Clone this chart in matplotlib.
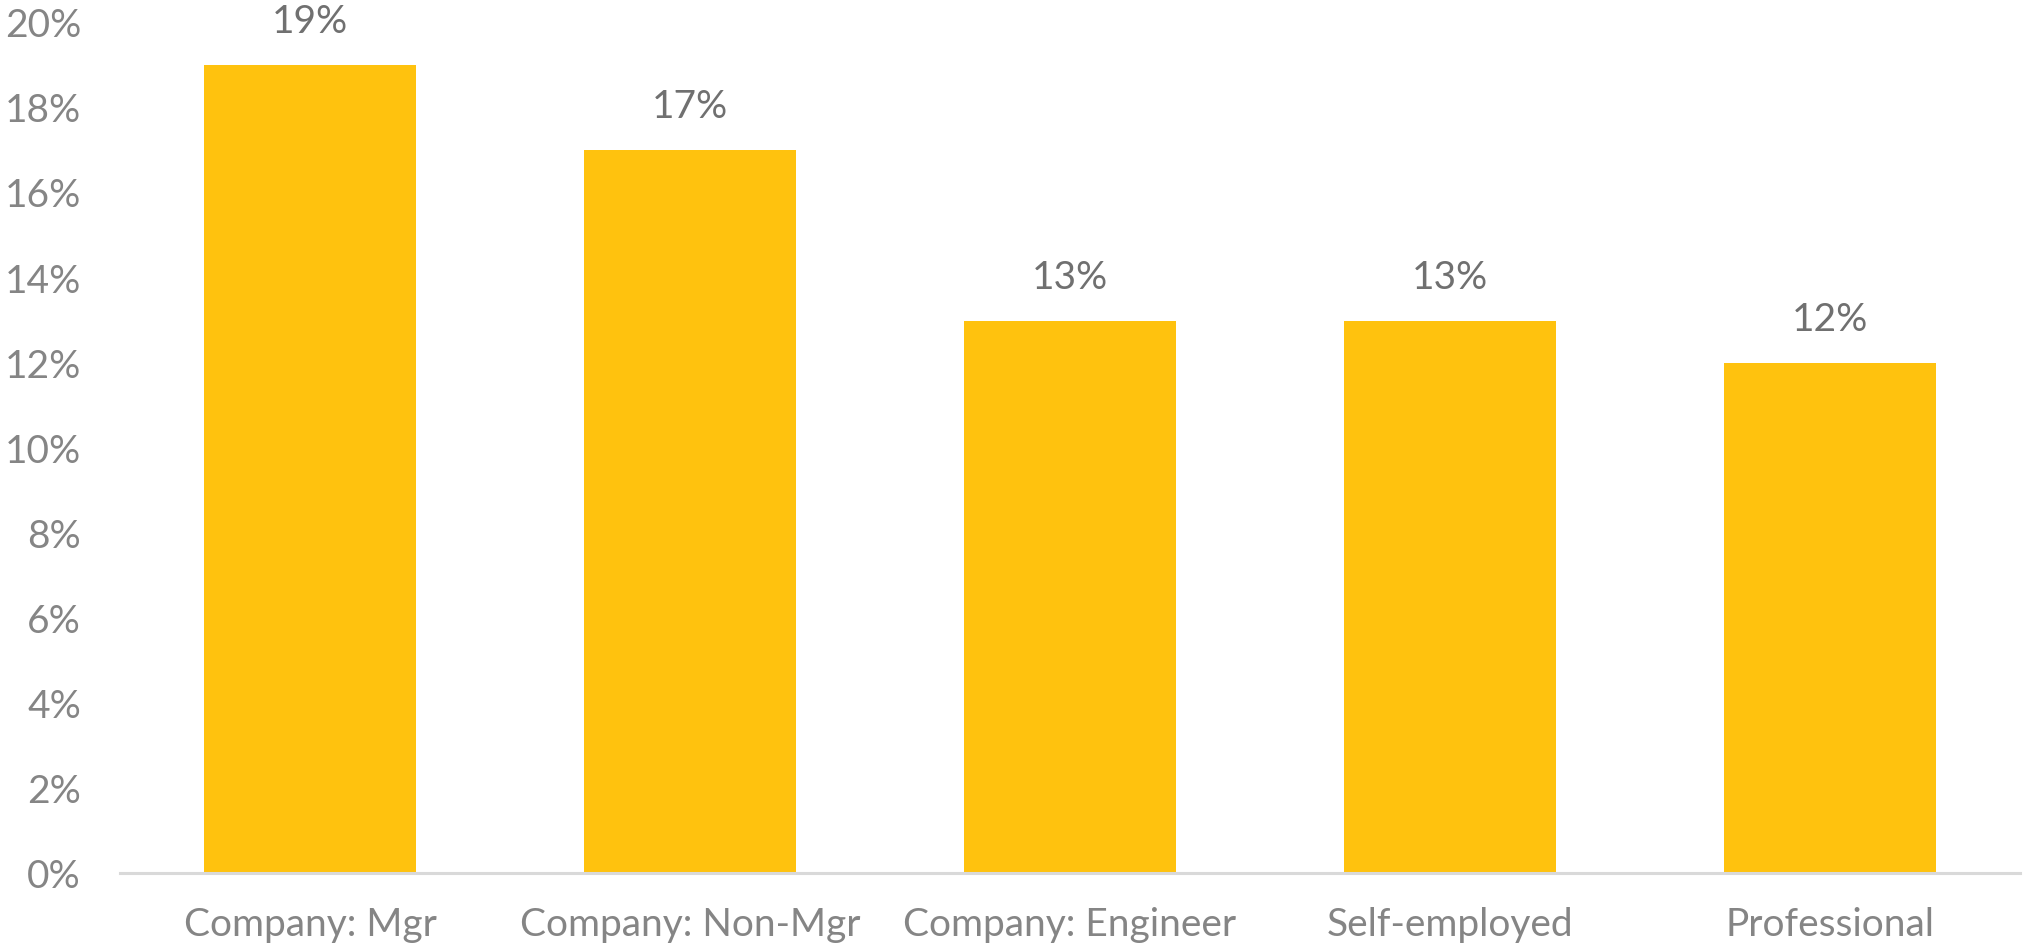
import numpy as np
import matplotlib.pyplot as plt

# Datos
categorias = ['Company: Mgr', 'Company: Non-Mgr', 'Company: Engineer', 'Self-employed', 'Professional']
porcentajes = [19, 17, 13, 13, 12]
ticks_y = np.arange(0, 21, 2)

amarillo = '#FFC20E'
gris = '#858585'

plt.rcParams['font.family'] = ['Lato', 'DejaVu Sans']

fig = plt.figure(figsize=(20.23, 9.51), dpi=100)
ax = fig.add_axes([0.0593, 0.0815, 0.9392, 0.8945])

x = np.arange(len(categorias))
ax.bar(x, porcentajes, width=0.558, color=amarillo, zorder=2)

# etiquetas de valor encima de cada barra
for xi, v in zip(x, porcentajes):
    ax.annotate(f'{v}%', (xi, v), xytext=(0, 18), textcoords='offset points',
                ha='center', va='bottom', fontsize=28, color='#707070')

ax.set_xlim(-0.5, 4.5)
ax.set_ylim(0, 20)
ax.set_xticks(x)
ax.set_xticklabels(categorias)
ax.set_yticks(ticks_y)
ax.set_yticklabels([f'{t}%' for t in ticks_y])

ax.tick_params(axis='x', length=0, pad=24, labelsize=28, labelcolor=gris)
ax.tick_params(axis='y', length=0, pad=28, labelsize=28, labelcolor=gris)

for lado in ['top', 'right', 'left']:
    ax.spines[lado].set_visible(False)
ax.spines['bottom'].set_color('#D9D9D9')
ax.spines['bottom'].set_linewidth(2.2)
ax.spines['bottom'].set_zorder(3)

fig.savefig('out.png', dpi=100)
